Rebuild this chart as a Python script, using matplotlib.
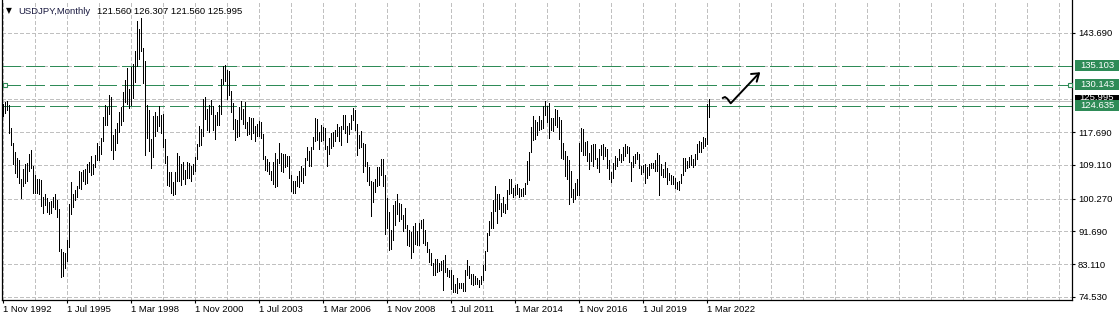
import numpy as np
import matplotlib
matplotlib.use("Agg")
import matplotlib.pyplot as plt
import matplotlib.transforms as mtransforms
from matplotlib.patches import Rectangle

plt.rcParams['font.family'] = ['Liberation Sans', 'DejaVu Sans']
plt.rcParams['lines.scale_dashes'] = False

# ---------------- data (monthly bars, Nov 1992 .. Apr 2022) ----------------
highs = [
    125.2, 125.6,
    125.8, 124.9, 118.7, 115.0, 112.5, 111.0, 110.4, 105.5, 108.0, 109.4, 109.6, 112.0,
    113.0, 108.9, 106.5, 105.4, 105.4, 105.3, 100.8, 101.4, 100.5, 99.5, 99.7, 100.8,
    101.5, 99.9, 97.5, 87.0, 86.3, 86.0, 89.4, 99.0, 104.6, 101.5, 102.5, 103.6,
    107.5, 107.2, 107.8, 108.0, 109.5, 109.8, 111.4, 109.3, 111.8, 114.9, 114.2, 116.1,
    121.6, 124.7, 124.4, 127.5, 127.0, 117.0, 118.6, 120.2, 123.0, 124.3, 128.2, 131.5,
    134.5, 128.9, 134.7, 135.6, 139.0, 146.8, 144.8, 147.7, 139.8, 136.3, 124.7, 123.5,
    116.0, 122.0, 123.0, 122.0, 124.5, 122.1, 122.4, 115.9, 111.4, 107.4, 107.4, 104.6,
    107.4, 112.2, 111.5, 109.3, 109.9, 107.8, 110.0, 109.6, 108.9, 109.4, 111.2, 114.7,
    119.4, 118.5, 126.3, 126.8, 123.8, 124.9, 126.2, 124.5, 122.1, 123.0, 124.7, 131.6,
    135.0, 135.2, 134.0, 133.7, 128.5, 125.3, 121.2, 121.0, 124.2, 126.0, 123.7, 125.7,
    120.5, 121.8, 121.5, 121.4, 119.3, 119.9, 120.6, 120.4, 117.3, 111.5, 110.7, 109.8,
    107.5, 109.8, 112.2, 110.6, 114.9, 112.2, 112.0, 111.9, 111.5, 111.5, 106.4, 105.0,
    104.9, 106.1, 107.5, 108.8, 108.3, 111.0, 113.7, 112.8, 113.7, 116.5, 121.4, 121.1,
    117.8, 119.5, 119.1, 118.7, 114.2, 116.3, 117.5, 117.8, 118.2, 119.9, 119.0, 119.2,
    122.2, 122.2, 119.2, 120.0, 122.2, 124.1, 123.6, 119.8, 117.0, 117.9, 115.0, 114.7,
    109.8, 108.5, 105.0, 104.6, 105.5, 108.6, 108.6, 110.7, 110.7, 106.4, 100.5, 96.9,
    92.1, 98.6, 99.7, 101.4, 99.2, 98.9, 95.9, 97.8, 93.4, 92.2, 91.5, 93.0,
    93.8, 91.8, 93.8, 94.7, 94.9, 92.1, 88.9, 87.2, 86.0, 83.5, 84.5, 84.5,
    83.4, 84.0, 84.2, 85.5, 82.0, 81.5, 81.5, 80.2, 77.9, 79.5, 78.3, 78.3,
    78.3, 81.7, 84.2, 82.6, 80.5, 80.6, 79.9, 79.5, 78.9, 80.1, 82.8, 86.6,
    91.3, 94.5, 96.7, 99.9, 103.7, 101.5, 101.5, 99.1, 100.6, 99.0, 102.5, 105.4,
    105.4, 103.0, 103.8, 104.1, 103.0, 102.8, 103.2, 104.5, 110.1, 112.5, 119.0, 121.85,
    120.8, 120.5, 122.0, 120.8, 124.5, 125.86, 124.6, 125.3, 121.4, 121.5, 123.8, 123.6,
    121.7, 121.0, 114.9, 112.7, 111.4, 110.5, 107.5, 102.8, 104.3, 105.5, 114.8, 118.7,
    118.6, 115.1, 115.5, 112.2, 114.4, 114.5, 114.5, 111.0, 113.3, 114.4, 114.7, 113.7,
    113.4, 110.5, 107.3, 109.6, 111.4, 111.0, 113.2, 112.1, 113.7, 114.6, 114.2, 113.7,
    109.9, 111.5, 112.1, 112.4, 112.0, 108.8, 109.0, 109.3, 108.5, 109.3, 109.7, 109.7,
    110.3, 112.2, 111.7, 109.4, 108.1, 109.85, 108.2, 107.05, 106.55, 106.1, 105.68, 104.75,
    104.9, 106.7, 110.97, 110.97, 110.2, 111.1, 111.7, 110.8, 112.1, 114.7, 115.5, 115.2,
    116.35, 116.3, 125.1, 126.307,
]
lows = [
    122.0, 122.7,
    123.5, 117.5, 114.4, 109.5, 107.0, 106.0, 104.5, 100.4, 103.6, 104.5, 105.0, 107.5,
    108.4, 101.7, 101.7, 101.7, 101.5, 98.3, 96.6, 98.6, 96.7, 96.2, 96.5, 98.0,
    97.6, 95.5, 86.6, 79.75, 80.0, 82.1, 84.0, 87.5, 96.4, 98.0, 100.0, 100.6,
    103.0, 102.8, 104.8, 104.2, 104.3, 107.2, 106.4, 106.8, 108.6, 110.5, 110.4, 112.1,
    115.3, 119.5, 119.5, 122.4, 113.0, 110.6, 113.1, 115.0, 117.8, 119.5, 120.7, 125.6,
    125.1, 124.0, 124.8, 126.7, 130.9, 135.0, 137.0, 139.1, 130.5, 111.6, 116.3, 112.8,
    108.2, 111.3, 116.8, 117.9, 119.3, 117.5, 113.7, 109.7, 103.8, 103.5, 101.7, 101.3,
    101.4, 104.9, 104.8, 103.8, 105.5, 104.0, 105.7, 105.6, 104.9, 106.8, 107.6, 110.8,
    114.0, 114.3, 116.7, 121.2, 118.2, 117.8, 122.4, 118.3, 115.8, 119.5, 119.6, 122.4,
    130.2, 131.0, 126.5, 127.5, 123.1, 118.6, 115.6, 116.5, 116.8, 121.2, 119.9, 118.7,
    117.0, 117.1, 115.9, 117.6, 115.4, 116.6, 116.8, 116.2, 110.8, 107.9, 107.6, 106.7,
    105.1, 104.0, 103.4, 103.6, 109.6, 107.6, 107.2, 108.5, 108.8, 105.6, 102.3, 101.8,
    101.7, 103.7, 103.3, 104.9, 104.5, 106.6, 110.5, 108.9, 108.9, 113.3, 115.5, 115.7,
    113.4, 115.4, 115.6, 113.4, 108.9, 111.9, 113.5, 114.2, 115.5, 116.8, 115.3, 114.4,
    118.5, 117.5, 115.1, 117.1, 118.6, 120.8, 118.3, 111.6, 113.5, 113.7, 107.2, 108.9,
    104.9, 103.8, 95.8, 99.5, 102.0, 103.5, 103.8, 106.6, 103.5, 90.9, 92.5, 86.9,
    87.1, 89.4, 93.5, 96.3, 94.5, 94.9, 91.8, 92.5, 88.2, 88.0, 84.8, 86.3,
    88.5, 88.1, 88.1, 92.5, 88.8, 88.2, 86.2, 83.6, 82.9, 80.2, 80.3, 81.1,
    81.4, 81.5, 76.3, 81.2, 80.0, 79.7, 76.6, 75.9, 75.9, 75.5, 76.8, 77.0,
    76.0, 76.1, 80.3, 79.5, 78.0, 77.6, 77.9, 77.9, 77.1, 77.9, 79.1, 81.7,
    86.5, 90.8, 92.6, 92.6, 97.1, 93.8, 97.6, 95.8, 96.9, 96.6, 97.6, 101.6,
    101.8, 100.8, 101.2, 101.4, 100.8, 101.1, 101.1, 101.5, 104.0, 105.2, 112.5, 115.6,
    115.9, 116.9, 118.3, 118.5, 118.9, 122.1, 120.4, 116.2, 118.3, 118.1, 119.6, 119.0,
    115.97, 110.98, 110.7, 106.3, 105.5, 99.0, 100.7, 99.5, 100.1, 101.2, 101.2, 112.9,
    111.6, 111.6, 110.1, 108.1, 110.2, 108.8, 110.6, 108.3, 107.3, 111.6, 110.8, 111.4,
    108.3, 105.5, 104.6, 105.6, 108.1, 108.9, 110.3, 109.8, 110.4, 111.4, 112.3, 110.0,
    104.9, 108.6, 109.7, 110.8, 108.3, 106.8, 107.2, 104.5, 105.7, 106.5, 108.2, 108.4,
    107.65, 107.6, 101.2, 106.4, 105.99, 106.07, 104.2, 105.1, 104.0, 104.0, 103.2, 102.88,
    102.6, 104.4, 106.4, 107.5, 108.3, 108.6, 109.1, 108.7, 109.1, 110.8, 112.5, 112.6,
    113.47, 114.1, 114.65, 121.56,
]

xtick_labels = ["1 Nov 1992", "1 Jul 1995", "1 Mar 1998", "1 Nov 2000",
                "1 Jul 2003", "1 Mar 2006", "1 Nov 2008", "1 Jul 2011",
                "1 Mar 2014", "1 Nov 2016", "1 Jul 2019", "1 Mar 2022"]
xtick_step = 32                      # bars between date labels
ytick_values = [143.690, 117.690, 109.110, 100.270, 91.690, 83.110, 74.530]
hgrid_levels = [143.690, 135.103, 126.400, 117.690, 109.110, 100.270, 91.690, 83.110, 74.530]
level_lines = [135.103, 130.143, 124.635]
last_price = 125.995
title_symbol = "USDJPY,Monthly"
title_ohlc = "121.560 126.307 121.560 125.995"

# hand-drawn arrow (bar index, price)
arrow_x = [359.7, 360.85, 362.0, 363.7, 377.85]
arrow_y = [126.66, 126.92, 126.48, 125.27, 133.13]
head_x = [373.85, 377.85, 376.7]
head_y = [132.95, 133.13, 130.93]

# ---------------- figure ----------------
W, H = 1119, 321
fig = plt.figure(figsize=(W / 100, H / 100), dpi=100)
fig.patch.set_facecolor('white')
ax = fig.add_axes([2 / W, 21 / H, 1070 / W, 300 / H])
ax.set_facecolor('white')

n = len(highs)
xs = np.arange(n)
ax.set_xlim(-0.65, 534.35)
ax.set_ylim(73.74, 152.335)

GRID = '#c0c0c0'
GREEN = '#2e8b57'
FS = 6.8
PX = 0.72  # one pixel in points

# grid
for k in range(0, 535, 16):
    ax.axvline(k, color=GRID, lw=PX, dashes=(2.2, 1.5), zorder=1, antialiased=False)
for lv in hgrid_levels:
    ax.axhline(lv, color=GRID, lw=PX, dashes=(2.2, 1.5), zorder=1, antialiased=False)

# last price line
ax.axhline(last_price, color='#c0c0c0', lw=PX, zorder=1.5, antialiased=False)

# level lines
for lv in level_lines:
    ax.axhline(lv, color=GREEN, lw=PX, dashes=(13, 3.6), zorder=2, antialiased=False)
ax.plot([0.85, 533.35], [level_lines[1]] * 2, 's', ms=3.0, mfc='white',
        mec=GREEN, mew=0.8, zorder=4, clip_on=False)

# bars
ax.vlines(xs, lows, highs, colors='black', lw=PX, antialiased=False, zorder=3)

# arrow
ax.plot(arrow_x, arrow_y, color='black', lw=1.4, solid_capstyle='round',
        solid_joinstyle='round', zorder=5)
ax.plot(head_x, head_y, color='black', lw=1.4, solid_capstyle='round',
        solid_joinstyle='round', zorder=5)

# spines
for s in ['left', 'bottom', 'right']:
    ax.spines[s].set_color('black')
    ax.spines[s].set_linewidth(0.9)
ax.spines['top'].set_visible(False)

# x ticks
xt = [i * xtick_step for i in range(len(xtick_labels))]
ax.set_xticks(xt)
ax.set_xticklabels(xtick_labels, fontsize=FS, ha='left')
ax.tick_params(axis='x', direction='out', length=2.4, width=0.8, pad=1.5, colors='black')

# y ticks on right
ax.yaxis.tick_right()
ax.set_yticks(ytick_values)
ax.set_yticklabels([f"{v:.3f}" for v in ytick_values], fontsize=FS)
ax.tick_params(axis='y', direction='out', length=2.4, width=0.8, pad=2.0, colors='black')

# right-axis price boxes
trans = mtransforms.blended_transform_factory(ax.transAxes, ax.transData)
ppu = 300 / (152.335 - 73.74)
box_h = 11 / ppu
bx0 = (1075 - 2) / 1070
bw = 44 / 1070
bxc = bx0 + bw / 2


def price_box(price, fc, z, show_text=True):
    r = Rectangle((bx0, price - box_h / 2), bw, box_h, transform=trans,
                  facecolor=fc, edgecolor='none', clip_on=False, zorder=z)
    ax.add_patch(r)
    if show_text:
        ax.text(bxc, price, f"{price:.3f}", transform=trans, ha='center', va='center',
                color='white', fontsize=FS, clip_on=False, zorder=z + 0.5)


# the last-price box sits underneath the 124.635 box (mostly hidden, as in the reference)
price_box(last_price, 'black', 6, show_text=False)
ax.text(bxc, last_price + 0.9, f"{last_price:.3f}", transform=trans, ha='center',
        va='center', color='white', fontsize=FS, clip_on=False, zorder=6.2)
for j, lv in enumerate(level_lines):
    price_box(lv, GREEN, 7 + j)

# title
fig.text(8.5 / W, 1 - 10.5 / H, "▼", fontsize=5.5, ha='center', va='center',
         family=['DejaVu Sans'])
fig.text(18 / W, 1 - 11 / H, title_symbol, fontsize=FS, ha='left', va='center',
         color='#1a1a40')
fig.text(97 / W, 1 - 11 / H, title_ohlc, fontsize=FS, ha='left', va='center',
         color='black')

fig.savefig("out.png", dpi=100, facecolor='white')
